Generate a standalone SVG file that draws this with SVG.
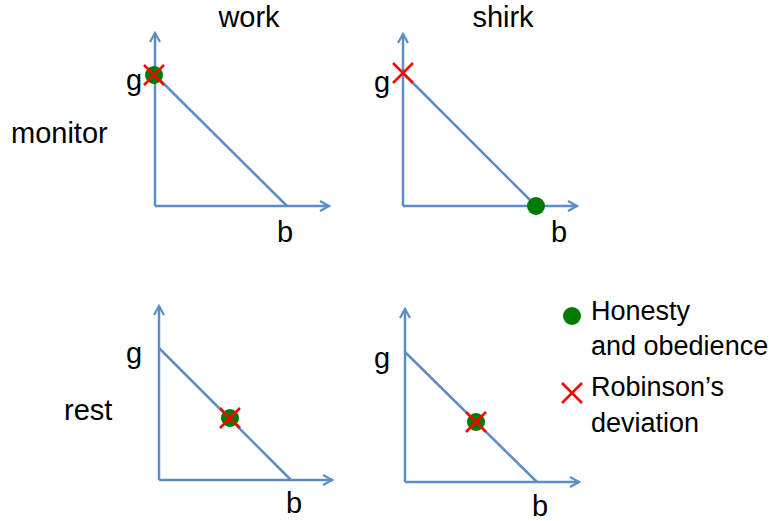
<svg xmlns="http://www.w3.org/2000/svg" width="774" height="521" viewBox="0 0 774 521">
<style>
text{font-family:"Liberation Sans",Arial,sans-serif;font-size:29px;fill:#000}
.leg{font-size:27px}
.ax{stroke:#5B8DC9;stroke-width:2.5;fill:none}
.dot{fill:#007A00}
.x{stroke:#FF0000;stroke-width:2.5;fill:none}
</style>
<defs>
<marker id="arr" viewBox="0 0 12 12" refX="10" refY="6" markerWidth="12" markerHeight="12" markerUnits="userSpaceOnUse" orient="auto">
<polyline points="1,1 10,6 1,11" fill="none" stroke="#5B8DC9" stroke-width="2.2"/>
</marker>
<g id="cross"><path class="x" d="M-10,-10 L10,10 M10,-10 L-10,10"/></g>
</defs>
<g id="headers">
<text x="249" y="27" text-anchor="middle">work</text>
<text x="503" y="27" text-anchor="middle">shirk</text>
<text x="11" y="143">monitor</text>
<text x="64" y="420">rest</text>
</g>
<g id="connectors">
<path class="ax" d="M155,206 V33" marker-end="url(#arr)"/>
<path class="ax" d="M155,206 H329" marker-end="url(#arr)"/>
<path class="ax" d="M155,75 L287,206"/>
<path class="ax" d="M403,206 V34" marker-end="url(#arr)"/>
<path class="ax" d="M403,206 H577" marker-end="url(#arr)"/>
<path class="ax" d="M403,73 L536,206"/>
<path class="ax" d="M159,480 V306" marker-end="url(#arr)"/>
<path class="ax" d="M159,480 H332" marker-end="url(#arr)"/>
<path class="ax" d="M159,348 L291,480"/>
<path class="ax" d="M405,482 V309" marker-end="url(#arr)"/>
<path class="ax" d="M405,482 H579" marker-end="url(#arr)"/>
<path class="ax" d="M405,352 L537,482"/>
</g>
<g id="panel-monitor-work">
<text x="126" y="90">g</text>
<text x="277" y="242">b</text>
<circle class="dot" cx="154" cy="75" r="9"/>
<use href="#cross" x="154" y="75"/>
</g>
<g id="panel-monitor-shirk">
<text x="374" y="92">g</text>
<text x="551" y="242">b</text>
<use href="#cross" x="403" y="73"/>
<circle class="dot" cx="536" cy="206" r="9"/>
</g>
<g id="panel-rest-work">
<text x="126" y="363">g</text>
<text x="286" y="513">b</text>
<circle class="dot" cx="230" cy="418" r="9"/>
<use href="#cross" x="230" y="418"/>
</g>
<g id="panel-rest-shirk">
<text x="374" y="368">g</text>
<text x="532" y="516">b</text>
<circle class="dot" cx="476" cy="422" r="9"/>
<use href="#cross" x="476" y="422"/>
</g>
<g id="legend">
<circle class="dot" cx="572" cy="316" r="9"/>
<text class="leg" x="591" y="320">Honesty</text>
<text class="leg" x="591" y="355">and obedience</text>
<use href="#cross" x="572" y="393"/>
<text class="leg" x="591" y="396">Robinson’s</text>
<text class="leg" x="591" y="432">deviation</text>
</g>
</svg>
